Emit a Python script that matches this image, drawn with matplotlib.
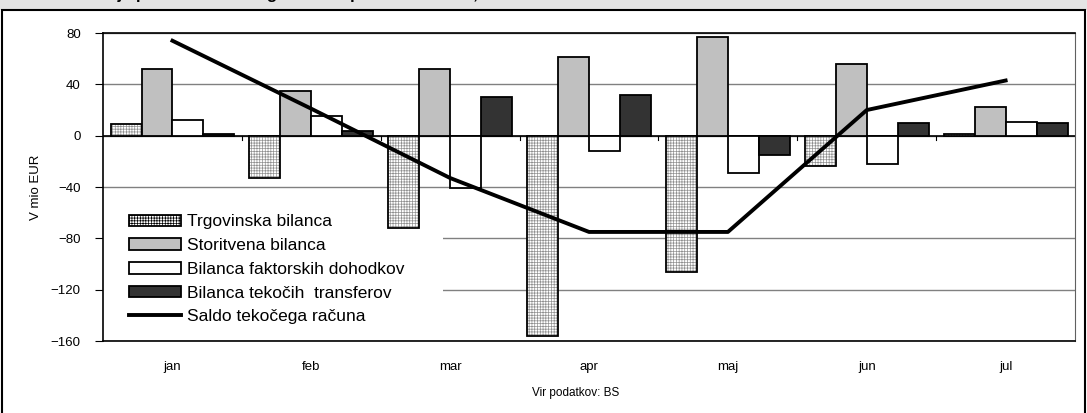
import numpy as np
import matplotlib.pyplot as plt
from matplotlib.patches import Rectangle, Patch
from matplotlib.lines import Line2D

plt.rcParams['font.family'] = ['Liberation Sans', 'DejaVu Sans']
plt.rcParams['hatch.linewidth'] = 0.5

months = ['jan', 'feb', 'mar', 'apr', 'maj', 'jun', 'jul']
trgovinska = [9, -33, -72, -156, -106, -24, 1.5]
storitvena = [52, 35, 52, 61, 77, 56, 22]
faktorski = [12, 15, -41, -12, -29, -22, 11]
transferi = [1, 3.5, 30, 32, -15, 10, 10]
saldo = [74, 21, -33, -75, -75, 20, 43]

fig = plt.figure(figsize=(10.87, 4.13), dpi=100)
ax = fig.add_axes([0.0948, 0.1743, 0.8942, 0.7457])
ax.set_axisbelow(True)

x = np.arange(len(months))
w = 0.223
# hatched fill in grey, then black outline on top
ax.bar(x - 1.5 * w, trgovinska, w, color='white', edgecolor='#909090', hatch='++++++',
       linewidth=0, zorder=3)
ax.bar(x - 1.5 * w, trgovinska, w, color='none', edgecolor='black', linewidth=1.3, zorder=3)
ax.bar(x - 0.5 * w, storitvena, w, color='#c0c0c0', edgecolor='black', linewidth=1.3, zorder=3)
ax.bar(x + 0.5 * w, faktorski, w, color='white', edgecolor='black', linewidth=1.3, zorder=3)
ax.bar(x + 1.5 * w, transferi, w, color='#333333', edgecolor='black', linewidth=1.3, zorder=3)
ax.plot(x, saldo, color='black', linewidth=2.8, zorder=4)

ax.set_xlim(-0.5, 6.5)
ax.set_ylim(-160, 80)
ax.set_yticks([80, 40, 0, -40, -80, -120, -160])
ax.tick_params(axis='y', direction='out', length=6, labelsize=9.5, pad=10)
ax.yaxis.grid(True, color='#808080', linewidth=1)
ax.axhline(0, color='black', linewidth=1.2, zorder=2)

# category boundary ticks on the zero line
ax.set_xticks([])
for b in np.arange(0.5, 6.5, 1.0):
    ax.plot([b, b], [0, -3.5], color='black', linewidth=0.8, zorder=2)
for i, m in enumerate(months):
    ax.text(i, -180, m, ha='center', va='center', fontsize=9.5)

ax.spines['left'].set_linewidth(1.2)
ax.spines['bottom'].set_linewidth(1.2)
ax.spines['top'].set_linewidth(1.2)
ax.spines['right'].set_color('#606060')
ax.set_ylabel('V mio EUR', fontsize=9.5, labelpad=6)

# white legend area hiding the gridlines
ax.add_patch(Rectangle((-0.5, -150), 2.45, 100, facecolor='white', edgecolor='none', zorder=1))

handles = [
    Patch(facecolor='white', edgecolor='black', hatch='++++++', linewidth=1.3),
    Patch(facecolor='#c0c0c0', edgecolor='black', linewidth=1.3),
    Patch(facecolor='white', edgecolor='black', linewidth=1.3),
    Patch(facecolor='#333333', edgecolor='black', linewidth=1.3),
    Line2D([], [], color='black', linewidth=2.8),
]
labels = ['Trgovinska bilanca', 'Storitvena bilanca', 'Bilanca faktorskih dohodkov',
          'Bilanca tekočih  transferov', 'Saldo tekočega računa']
leg = ax.legend(handles, labels, loc='upper left', bbox_to_anchor=(0.012, 0.456), frameon=False,
                fontsize=12.5, handlelength=3.0, handleheight=0.65, handletextpad=0.35,
                labelspacing=0.5, borderpad=0.3)
leg.set_zorder(2.5)

fig.text(0.53, 0.048, 'Vir podatkov: BS', ha='center', va='center', fontsize=8.5)

# outer frame and clipped title band
fig.patches.append(Rectangle((0, 1 - 10 / 413), 1, 10 / 413, transform=fig.transFigure,
                             facecolor='#e4e4e4', edgecolor='none', zorder=0))
fig.patches.append(Rectangle((2 / 1087, -0.01), 1083 / 1087, 1 - 10 / 413 + 0.01,
                             transform=fig.transFigure, facecolor='none',
                             edgecolor='black', linewidth=1.5, zorder=1))
fig.text(8 / 1087, 1 + 1 / 413, 'Slika 3: Gibanje podatkov tekočega računa plačilne bilance, I–VII 2005',
         ha='left', va='baseline', fontsize=12, fontweight='bold')

fig.savefig('out.png', dpi=100)
